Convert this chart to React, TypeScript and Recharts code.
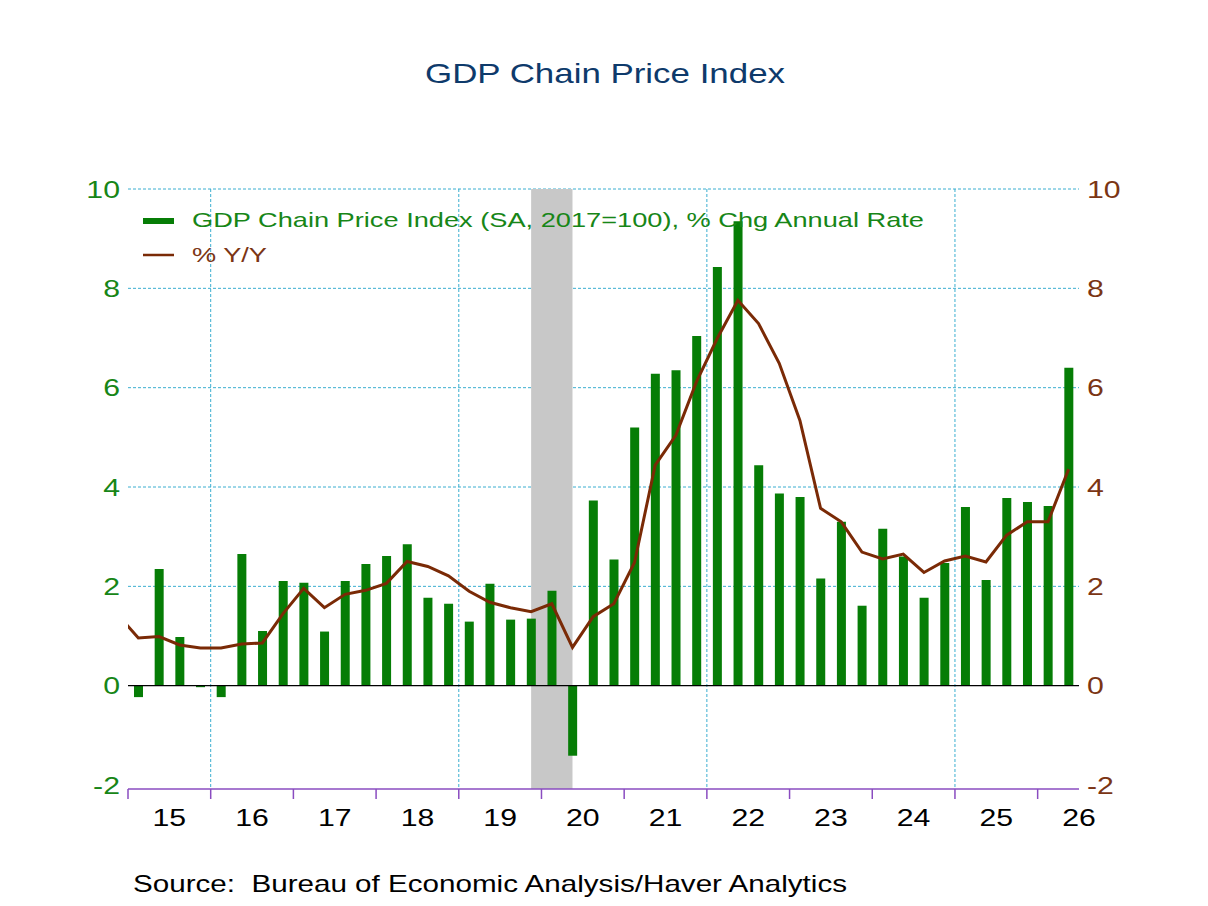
import React from "react";
import {
  ComposedChart,
  Bar,
  Line,
  XAxis,
  YAxis,
  CartesianGrid,
  ReferenceArea,
  ReferenceLine,
  Legend,
} from "recharts";

// ---- data (quarterly, 2014Q4 .. 2026Q2) ----
const quarters = [
  "2014Q4",
  "2015Q1", "2015Q2", "2015Q3", "2015Q4",
  "2016Q1", "2016Q2", "2016Q3", "2016Q4",
  "2017Q1", "2017Q2", "2017Q3", "2017Q4",
  "2018Q1", "2018Q2", "2018Q3", "2018Q4",
  "2019Q1", "2019Q2", "2019Q3", "2019Q4",
  "2020Q1", "2020Q2", "2020Q3", "2020Q4",
  "2021Q1", "2021Q2", "2021Q3", "2021Q4",
  "2022Q1", "2022Q2", "2022Q3", "2022Q4",
  "2023Q1", "2023Q2", "2023Q3", "2023Q4",
  "2024Q1", "2024Q2", "2024Q3", "2024Q4",
  "2025Q1", "2025Q2", "2025Q3", "2025Q4",
  "2026Q1", "2026Q2",
];

// GDP Chain Price Index, % Chg Annual Rate
const annualRate: (number | null)[] = [
  null,
  -0.23, 2.35, 0.98, -0.03,
  -0.23, 2.65, 1.1, 2.11,
  2.07, 1.09, 2.11, 2.45,
  2.61, 2.85, 1.77, 1.65,
  1.29, 2.05, 1.33, 1.35,
  1.91, -1.41, 3.73, 2.54,
  5.2, 6.28, 6.35, 7.04,
  8.43, 9.35, 4.44, 3.87,
  3.8, 2.16, 3.3, 1.61,
  3.16, 2.6, 1.77, 2.47,
  3.6, 2.13, 3.78, 3.7,
  3.62, 6.4,
];

// % Y/Y
const yoy: number[] = [
  1.43,
  0.96, 0.99, 0.82, 0.76,
  0.76, 0.84, 0.86, 1.45,
  1.96, 1.57, 1.84, 1.92,
  2.06, 2.5, 2.4, 2.21,
  1.9, 1.68, 1.57, 1.49,
  1.65, 0.77, 1.39, 1.65,
  2.48, 4.44, 5.04, 6.12,
  6.99, 7.76, 7.29, 6.49,
  5.34, 3.57, 3.3, 2.69,
  2.55, 2.65, 2.28, 2.51,
  2.61, 2.49, 3.03, 3.3,
  3.3, 4.36,
];

const yearLabels = ["15", "16", "17", "18", "19", "20", "21", "22", "23", "24", "25", "26"];
const yTicks = [-2, 0, 2, 4, 6, 8, 10];
const gridY = [2, 4, 6, 8, 10];
const gridX = [4, 16, 28, 40];
const yearTicks = [0, 4, 8, 12, 16, 20, 24, 28, 32, 36, 40, 44];
const recessionStart = "2019Q4";
const recessionEnd = "2020Q2";

// first quarter in the list lies before the axis start (2015Q1 = slot 0)
const data = quarters.map((q, i) => ({
  q,
  x: i - 0.5,
  rate: annualRate[i],
  yoy: yoy[i],
}));
const xOf = (q: string) => quarters.indexOf(q) - 0.5;

// ---- layout ----
const W = 1200;
const H = 890;
const LEFT_W = 120;
const RIGHT_W = 129;
const TOP = 181;
const X_AXIS_H = 40;
const BOTTOM = 69;
const SLOTS = 46;
const PLOT_W = W - LEFT_W - RIGHT_W;
const HALF_YEAR = (PLOT_W / SLOTS) * 2;
const SX = 1.26; // horizontal stretch of the lettering

const GREEN = "#067d06";
const GREEN_TEXT = "#178617";
const BROWN = "#7a2a06";
const BROWN_TEXT = "#7b3514";
const PURPLE = "#8a4cc0";
const GRID = "#3aaed0";
const FONT = "'Liberation Sans', Arial, Helvetica, sans-serif";

const YearTick = (props: any) => {
  const { x, y, payload } = props;
  const label = yearLabels[Math.round(payload.value / 4)];
  return (
    <text
      transform={`translate(${x + HALF_YEAR},${y}) scale(${SX},1)`}
      dy="0.71em"
      textAnchor="middle"
      fill="#000"
      fontSize={24}
      fontFamily={FONT}
    >
      {label}
    </text>
  );
};

const makeYTick = (fill: string, anchor: "start" | "end") => (props: any) => {
  const { x, y, payload } = props;
  return (
    <text
      transform={`translate(${x},${y}) scale(${SX},1)`}
      dy="0.355em"
      textAnchor={anchor}
      fill={fill}
      fontSize={24}
      fontFamily={FONT}
    >
      {payload.value}
    </text>
  );
};
const LeftTick = makeYTick(GREEN_TEXT, "end");
const RightTick = makeYTick(BROWN_TEXT, "start");

const LegendContent = () => (
  <svg width={900} height={70} style={{ display: "block" }}>
    <rect x={0} y={15} width={31} height={6} fill={GREEN} />
    <text
      x={49}
      y={24}
      fontSize={21}
      fill={GREEN_TEXT}
      fontFamily={FONT}
      textLength={732}
      lengthAdjust="spacingAndGlyphs"
    >
      GDP Chain Price Index (SA, 2017=100), % Chg Annual Rate
    </text>
    <line x1={0} x2={31} y1={52} y2={52} stroke={BROWN} strokeWidth={2.5} />
    <text
      x={49}
      y={59}
      fontSize={21}
      fill={BROWN_TEXT}
      fontFamily={FONT}
      textLength={75}
      lengthAdjust="spacingAndGlyphs"
    >
      % Y/Y
    </text>
  </svg>
);

export default function App() {
  return (
    <div style={{ position: "relative", width: W, height: 898, fontFamily: FONT }}>
      <ComposedChart
        width={W}
        height={H}
        data={data}
        margin={{ top: TOP, right: 0, bottom: BOTTOM, left: 0 }}
      >
        <CartesianGrid
          yAxisId="left"
          stroke={GRID}
          strokeDasharray="3 2"
          horizontalValues={gridY}
          verticalValues={gridX}
        />
        <XAxis
          type="number"
          dataKey="x"
          domain={[0, SLOTS]}
          allowDataOverflow
          ticks={yearTicks}
          interval={0}
          tickSize={10}
          tickMargin={10}
          height={X_AXIS_H}
          stroke={PURPLE}
          strokeWidth={1.5}
          tick={<YearTick />}
        />
        <YAxis
          yAxisId="left"
          orientation="left"
          domain={[-2.08, 10]}
          allowDataOverflow
          ticks={yTicks}
          interval={0}
          width={LEFT_W}
          axisLine={false}
          tickLine={false}
          tick={<LeftTick />}
        />
        <YAxis
          yAxisId="right"
          orientation="right"
          domain={[-2.08, 10]}
          allowDataOverflow
          ticks={yTicks}
          interval={0}
          width={RIGHT_W}
          axisLine={false}
          tickLine={false}
          tick={<RightTick />}
        />
        <ReferenceArea
          yAxisId="left"
          x1={xOf(recessionStart)}
          x2={xOf(recessionEnd)}
          fill="#c8c8c8"
          fillOpacity={1}
          stroke="none"
        />
        <ReferenceLine yAxisId="left" y={0} stroke="#000" strokeWidth={1.2} />
        <Bar
          yAxisId="left"
          dataKey="rate"
          name="GDP Chain Price Index (SA, 2017=100), % Chg Annual Rate"
          fill={GREEN}
          barSize={9}
          isAnimationActive={false}
        />
        <Line
          yAxisId="right"
          dataKey="yoy"
          name="% Y/Y"
          type="linear"
          stroke={BROWN}
          strokeWidth={3}
          dot={false}
          activeDot={false}
          isAnimationActive={false}
        />
        <Legend
          layout="horizontal"
          verticalAlign="middle"
          align="center"
          wrapperStyle={{ position: "absolute", left: 135, top: 195, width: 900, height: 70 }}
          content={<LegendContent />}
        />
      </ComposedChart>
      <svg
        width={W}
        height={898}
        style={{ position: "absolute", left: 0, top: 0, pointerEvents: "none" }}
      >
        <text
          x={417}
          y={75}
          fontSize={28}
          fill="#0e3a6b"
          fontFamily={FONT}
          textLength={360}
          lengthAdjust="spacingAndGlyphs"
        >
          GDP Chain Price Index
        </text>
        <text
          x={125}
          y={884}
          fontSize={24}
          fill="#000"
          fontFamily={FONT}
          textLength={714}
          lengthAdjust="spacingAndGlyphs"
          style={{ whiteSpace: "pre" }}
        >
          Source:  Bureau of Economic Analysis/Haver Analytics
        </text>
      </svg>
    </div>
  );
}
